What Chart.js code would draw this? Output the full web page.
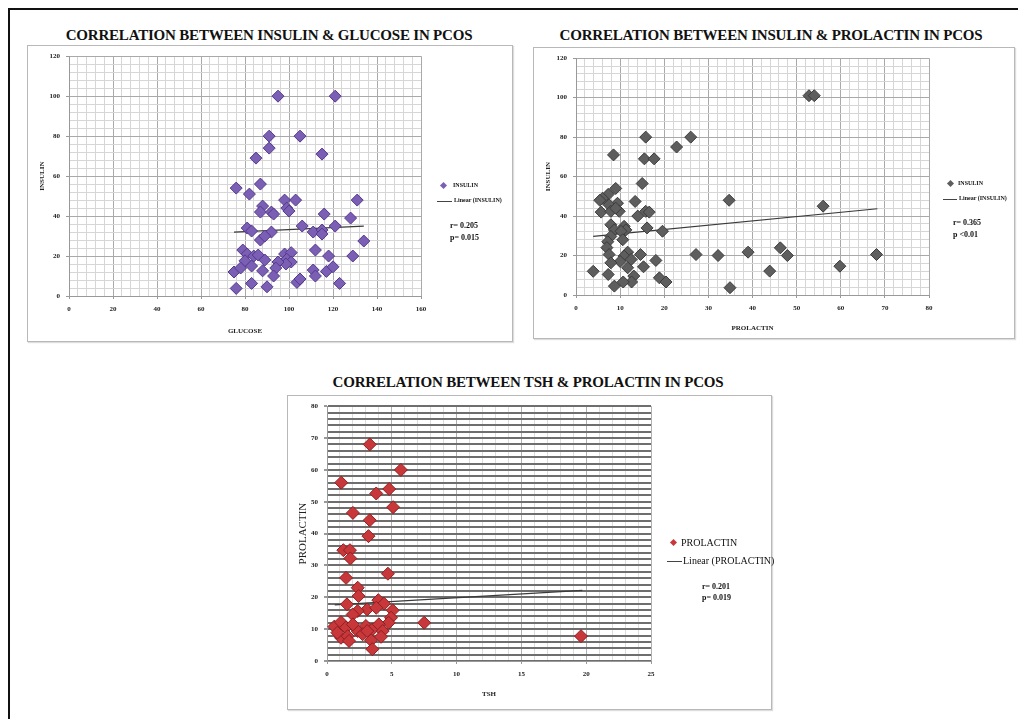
<!DOCTYPE html>
<html>
<head>
<meta charset="utf-8">
<script src="https://cdn.jsdelivr.net/npm/chart.js@4/dist/chart.umd.min.js"></script>
<style>
  body { margin: 0; background: #fff; width: 1018px; height: 719px; overflow: hidden; position: relative; font-family: "Liberation Serif", serif; }
  .frame { position: absolute; left: 8px; top: 8px; width: 1030px; height: 730px; border-left: 2px solid #111; border-top: 2px solid #111; }
  .title { position: absolute; font-weight: bold; font-size: 15px; letter-spacing: -0.2px; white-space: nowrap; color: #111; }
  .box { position: absolute; border: 1px solid #b8b8b8; box-shadow: 1px 1px 1px #ddd; }
  .box canvas { position: absolute; left: 0; top: 0; }
  .note { position: absolute; font-weight: bold; white-space: nowrap; color: #111; line-height: 1; }
  .dia { position: absolute; transform: rotate(45deg); }
  .ln { position: absolute; height: 1px; background: #444; }
</style>
</head>
<body>
<div class="frame"></div>

<div class="title" id="t1" style="left:269px;top:35px;">CORRELATION BETWEEN INSULIN &amp; GLUCOSE IN PCOS</div>
<div class="title" id="t2" style="left:771px;top:35px;">CORRELATION BETWEEN INSULIN &amp; PROLACTIN IN PCOS</div>
<div class="title" id="t3" style="left:528px;top:382px;">CORRELATION BETWEEN TSH &amp; PROLACTIN IN PCOS</div>

<div class="box" style="left:27px;top:45px;width:484px;height:295px;"><canvas id="c1" width="484" height="295"></canvas></div>
<div class="box" style="left:533px;top:47px;width:480px;height:290px;"><canvas id="c2" width="480" height="290"></canvas></div>
<div class="box" style="left:287px;top:395px;width:483px;height:313px;"><canvas id="c3" width="483" height="313"></canvas></div>

<!-- legend + stats, chart 1 -->
<div class="dia" style="left:441px;top:183px;width:5px;height:5px;background:#7b5fb4;"></div>
<div class="note" style="left:453px;top:182px;font-size:6px;">INSULIN</div>
<div class="ln" style="left:437px;top:201px;width:15px;"></div>
<div class="note" style="left:454px;top:197px;font-size:6px;">Linear (INSULIN)</div>
<div class="note" style="left:450px;top:222px;font-size:8px;">r= 0.205</div>
<div class="note" style="left:450px;top:234px;font-size:8px;">p= 0.015</div>

<!-- legend + stats, chart 2 -->
<div class="dia" style="left:948px;top:181px;width:5px;height:5px;background:#5e5e5e;"></div>
<div class="note" style="left:958px;top:180px;font-size:6px;">INSULIN</div>
<div class="ln" style="left:943px;top:199px;width:14px;"></div>
<div class="note" style="left:959px;top:195px;font-size:6px;">Linear (INSULIN)</div>
<div class="note" style="left:953px;top:219px;font-size:8px;">r= 0.365</div>
<div class="note" style="left:953px;top:231px;font-size:8px;">p &lt;0.01</div>

<!-- legend + stats, chart 3 -->
<div class="dia" style="left:671px;top:540px;width:5px;height:5px;background:#c8383a;"></div>
<div class="note" style="left:681px;top:538px;font-size:10px;font-weight:normal;">PROLACTIN</div>
<div class="ln" style="left:667px;top:561px;width:15px;"></div>
<div class="note" style="left:683px;top:556px;font-size:10px;font-weight:normal;">Linear (PROLACTIN)</div>
<div class="note" style="left:702px;top:583px;font-size:8px;">r= 0.201</div>
<div class="note" style="left:702px;top:594px;font-size:8px;">p= 0.019</div>

<script>
// chart 1: glucose vs insulin
const glucose = [95, 121, 91, 105, 91, 85, 115, 76, 87, 82, 98, 103, 131, 88, 87, 92, 93, 99, 100, 116, 128,
  81, 83, 92, 87, 89, 106, 111, 115, 115, 121, 134, 79, 81, 84, 86, 80, 89, 98, 101, 99, 101, 98.6, 95, 94,
  112, 118, 129, 75, 78, 83, 88, 111, 112, 117, 120, 93, 83, 90, 76, 103.6, 105, 123];
const insulin1 = [100, 100, 80, 80, 74, 69, 71, 54, 56, 51, 48, 48, 48, 45, 42, 42, 41, 44, 42.5, 41, 39,
  34, 32.5, 32, 28, 30, 35, 32, 33, 31, 35, 27.5, 23, 21, 20, 20.5, 17.6, 18, 21, 21.7, 18.4, 17, 16, 17, 14,
  23, 20, 20, 12, 14, 15, 12.6, 13, 10, 12.3, 14.6, 10, 6.3, 4.6, 3.8, 6.8, 8.5, 6.3];
const trend1X = [75, 134];
const trend1Y = [32, 35];

// chart 2: prolactin vs insulin
const prolactin2 = [52.8, 54, 15.8, 26, 22.8, 8.5, 15.5, 17.7, 15, 9, 7.3, 6, 5.4, 13.4, 34.7, 56, 9.4, 7.5,
  5.7, 7.9, 9.8, 9, 14, 15.8, 16.6, 16.1, 7.9, 8.7, 10.9, 11.3, 7.9, 10.2, 19.6, 7.2, 10.6, 7, 7.5, 11.7, 14.6,
  10.9, 10, 7.9, 12.5, 15.3, 11.7, 18.1, 3.9, 7.3, 13.1, 12.6, 10.7, 18.9, 20.4, 8.7, 27.2, 32.2, 39, 46.3,
  47.9, 43.9, 59.8, 68.1, 34.9];
const insulin2 = [101, 101, 80, 80, 75, 71, 69, 69, 56.5, 54, 51, 49, 48, 47.4, 48, 45, 46.5, 45.7,
  42, 42.4, 42.4, 44, 40, 42.4, 42, 34, 35.6, 33, 34.8, 33, 29.7, 32.3, 32.3, 27, 28, 24, 20.5, 21.7, 20.5,
  19.7, 17, 16.3, 18, 14.3, 13.8, 17.5, 12, 10.4, 9.6, 6.6, 6.6, 8.7, 6.6, 4.5, 20.5, 20, 21.7, 23.9,
  20, 12.1, 14.6, 20.5, 3.7];
const trend2X = [3.9, 68.3];
const trend2Y = [29.7, 43.7];

// chart 3: tsh vs prolactin
const tsh = [3.3, 5.7, 1.1, 4.8, 3.8, 5.1, 2, 3.3, 3.2, 1.26, 1.77, 1.8, 4.7, 1.47, 2.37, 2.44, 3.96, 1.54,
  4.4, 5.07, 3.1, 2.37, 1.98, 3.8, 4.94, 4.76, 7.5, 19.6, 0.57, 1.08, 1.47, 1.08, 1.6, 2.37, 3, 3.5, 2.75,
  3.4, 3.5, 4, 4.3, 4.17, 3.1, 2, 0.8, 1.7];
const prolactin3 = [68, 60, 56, 54, 52.6, 48.3, 46.5, 44.2, 39.2, 34.8, 34.8, 32.2, 27.4, 26.1, 23, 20.4, 19.1, 17.8,
  18, 15.9, 16.2, 15.7, 14.6, 16.7, 13.6, 12, 12, 7.8, 10.8, 12.2, 10.5, 7.3, 7.8, 9.4, 11, 9.9, 8.4,
  6.5, 3.7, 11.5, 9.4, 7.6, 9.4, 11.5, 8.9, 6.3];
const trend3X = [0.6, 19.7];
const trend3Y = [17.6, 22.2];

const pts = (xs, ys) => xs.map((x, i) => ({ x: x, y: ys[i] }));

function makeChart(id, o) {
  const tickFont = { family: "Liberation Serif", weight: "bold", size: o.tickSize };
  const config = {
    type: "scatter",
    data: {
      datasets: [
        {
          data: pts(o.xs, o.ys),
          pointStyle: "rectRot",
          pointRadius: o.radius,
          backgroundColor: o.fill,
          borderColor: o.edge,
          borderWidth: 1,
        },
        {
          data: pts(o.tx, o.ty),
          showLine: true,
          pointRadius: 0,
          borderColor: "#3a3a3a",
          borderWidth: 1.2,
        },
      ],
    },
    options: {
      responsive: false,
      animation: false,
      devicePixelRatio: 1,
      layout: { padding: o.pad },
      plugins: { legend: { display: false }, tooltip: { enabled: false } },
      scales: {
        x: {
          type: "linear",
          min: 0,
          max: o.xMax,
          border: { color: "#999" },
          grid: {
            color: (c) => (c.tick && c.tick.value % o.xMajor === 0 ? o.xMajorCol : o.xMinorCol),
            lineWidth: o.xLine,
            tickLength: 3,
            tickColor: (c) => (c.tick && c.tick.value % o.xMajor === 0 ? "#999" : "rgba(0,0,0,0)"),
          },
          ticks: {
            stepSize: o.xStep,
            autoSkip: false,
            maxRotation: 0,
            color: "#222",
            font: tickFont,
            padding: o.xTickPad,
            callback: (v) => (v % o.xMajor === 0 ? v : ""),
          },
          title: { display: true, text: o.xTitle, color: "#222", font: o.xTitleFont, padding: { top: 0, bottom: o.xTitleBottom } },
          afterFit: (s) => { s.height = o.xH; },
        },
        y: {
          type: "linear",
          min: 0,
          max: o.yMax,
          border: { color: "#999" },
          grid: {
            color: (c) => (c.tick && c.tick.value % o.yMajor === 0 ? o.yMajorCol : o.yMinorCol),
            lineWidth: o.yLine,
            tickLength: 3,
            tickColor: (c) => (c.tick && c.tick.value % o.yMajor === 0 ? "#999" : "rgba(0,0,0,0)"),
          },
          ticks: {
            stepSize: o.yStep,
            autoSkip: false,
            color: "#222",
            font: tickFont,
            padding: 6,
            callback: (v) => (v % o.yMajor === 0 ? v : ""),
          },
          title: { display: true, text: o.yTitle, color: "#222", font: o.yTitleFont, padding: { top: o.yTitleLeft, bottom: 0 } },
          afterFit: (s) => { s.width = o.yW; },
        },
      },
    },
  };
  new Chart(document.getElementById(id).getContext("2d"), config);
}

const smallBold = { family: "Liberation Serif", weight: "bold", size: 7 };

makeChart("c1", {
  xs: glucose, ys: insulin1, tx: trend1X, ty: trend1Y,
  fill: "#7b5fb4", edge: "#55398c", radius: 6, tickSize: 7,
  pad: { left: 0, top: 9, right: 91, bottom: 0 }, xH: 45, yW: 41,
  xMax: 160, xStep: 4, xMajor: 20, yMax: 120, yStep: 4, yMajor: 20,
  xMajorCol: "#a9a9a9", xMinorCol: "#d6d6d6", yMajorCol: "#a9a9a9", yMinorCol: "#d6d6d6",
  xLine: 1, yLine: 1, xTickPad: 6, xTitleBottom: 6, yTitleLeft: 10,
  xTitle: "GLUCOSE", yTitle: "INSULIN", xTitleFont: smallBold, yTitleFont: smallBold,
});

makeChart("c2", {
  xs: prolactin2, ys: insulin2, tx: trend2X, ty: trend2Y,
  fill: "#5e5e5e", edge: "#3c3c3c", radius: 6, tickSize: 7,
  pad: { left: 0, top: 9, right: 85, bottom: 0 }, xH: 43, yW: 42,
  xMax: 80, xStep: 2, xMajor: 10, yMax: 120, yStep: 4, yMajor: 20,
  xMajorCol: "#a9a9a9", xMinorCol: "#d6d6d6", yMajorCol: "#a9a9a9", yMinorCol: "#d6d6d6",
  xLine: 1, yLine: 1, xTickPad: 6, xTitleBottom: 6, yTitleLeft: 10,
  xTitle: "PROLACTIN", yTitle: "INSULIN", xTitleFont: smallBold, yTitleFont: smallBold,
});

makeChart("c3", {
  xs: tsh, ys: prolactin3, tx: trend3X, ty: trend3Y,
  fill: "#c8383a", edge: "#8e1e21", radius: 6.5, tickSize: 7,
  pad: { left: 0, top: 10, right: 120, bottom: 0 }, xH: 48, yW: 39,
  xMax: 25, xStep: 1, xMajor: 5, yMax: 80, yStep: 2, yMajor: 10,
  xMajorCol: "#b0b0b0", xMinorCol: "#dcdcdc", yMajorCol: "#6e6e6e", yMinorCol: "#6e6e6e",
  xLine: 1, yLine: 2, xTickPad: 6, xTitleBottom: 11, yTitleLeft: 9,
  xTitle: "TSH", yTitle: "PROLACTIN", xTitleFont: smallBold,
  yTitleFont: { family: "Liberation Serif", size: 11 },
});

// titles are centred on their x position
["t1", "t2", "t3"].forEach((id) => {
  document.getElementById(id).style.transform = "translate(-50%, -50%)";
});
</script>
</body>
</html>
